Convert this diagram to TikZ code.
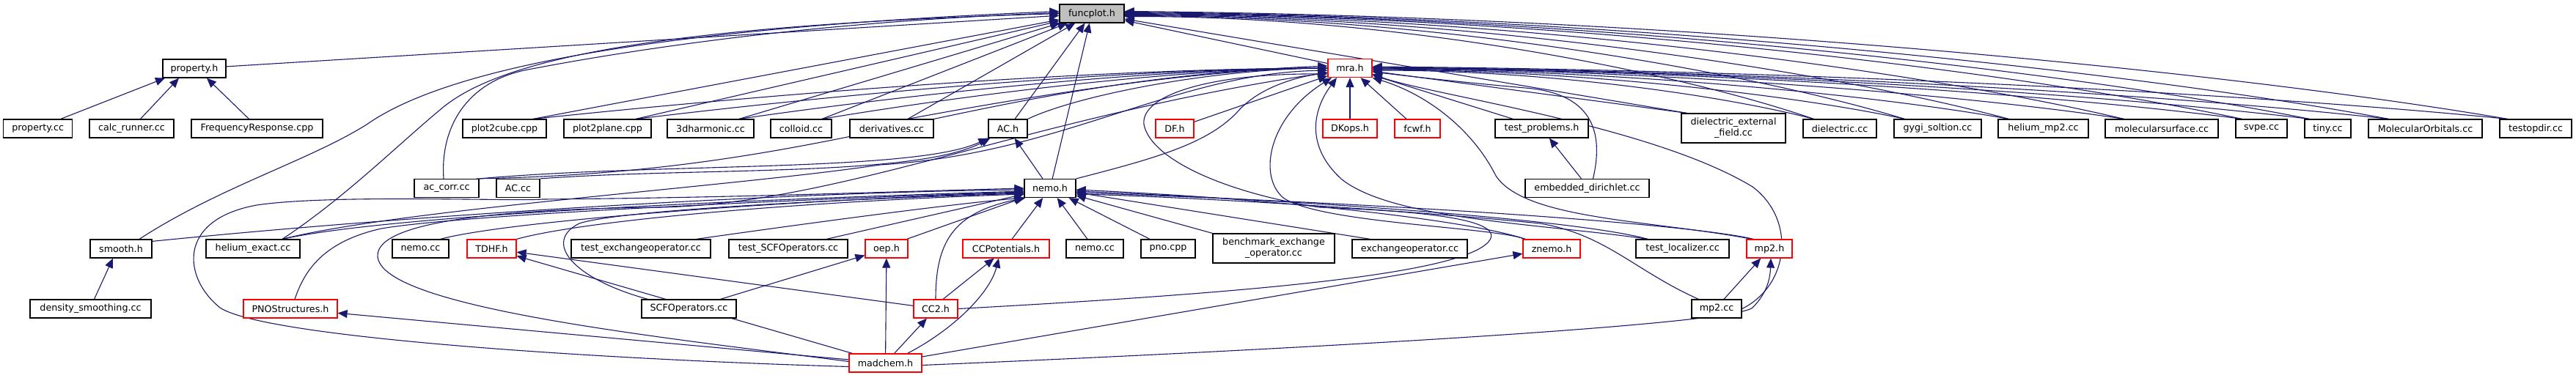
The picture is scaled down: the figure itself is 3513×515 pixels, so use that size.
\documentclass[tikz,border=0pt]{standalone}
\usepackage{fontspec}
\setmainfont{DejaVu Sans}
\usetikzlibrary{arrows.meta}
\definecolor{edgecol}{HTML}{191970}
\definecolor{gfill}{HTML}{BFBFBF}
\definecolor{redb}{HTML}{FF0000}
\pgfdeclarelayer{bg}
\pgfsetlayers{bg,main}
\tikzset{
 box/.style={draw=black, line width=1.2pt, fill=white, minimum height=25pt, inner sep=0pt, font=\fontsize{12.7}{15}\selectfont, text=black},
 rbox/.style={box, draw=redb},
 conn/.style={draw=edgecol, line width=1.1pt, -{Triangle[length=13pt,width=11pt]}},
}
\begin{document}
\begin{tikzpicture}[x=1pt,y=-1pt]
\useasboundingbox (0,0) rectangle (3513,515);
% level 0
\node[box, minimum width=88pt, fill=gfill] (funcplot) at (1489,18.5) {funcplot.h};
% level 1
\node[box, minimum width=86pt] (propertyh) at (265,93.5) {property.h};
\node[rbox, minimum width=60pt] (mrah) at (1841,93) {mra.h};
% level 2
\node[box, minimum width=94pt] (propertycc) at (51.7,175.5) {property.cc};
\node[box, minimum width=115pt] (calcrunner) at (179.5,175.5) {calc\_runner.cc};
\node[box, minimum width=179pt] (freqresp) at (350.5,175.5) {FrequencyResponse.cpp};
\node[box, minimum width=114pt] (plotcube) at (688,175.5) {plot2cube.cpp};
\node[box, minimum width=119pt] (plotplane) at (828.5,175.5) {plot2plane.cpp};
\node[box, minimum width=118pt] (harmonic) at (969,175.5) {3dharmonic.cc};
\node[box, minimum width=83pt] (colloid) at (1092.5,175.5) {colloid.cc};
\node[box, minimum width=114pt] (derivs) at (1216,175.5) {derivatives.cc};
\node[box, minimum width=53pt] (ACh) at (1374.5,175.5) {AC.h};
\node[rbox, minimum width=52pt] (DFh) at (1602,175.5) {DF.h};
\node[rbox, minimum width=74pt] (DKops) at (1841,175.5) {DKops.h};
\node[rbox, minimum width=62pt] (fcwf) at (1933,175.5) {fcwf.h};
\node[box, minimum width=127pt] (testprob) at (2102.5,175.5) {test\_problems.h};
\node[box, minimum width=142pt, minimum height=40pt, align=center] (dext) at (2364,175) {dielectric\_external\\\_field.cc};
\node[box, minimum width=100pt] (dielec) at (2509,175.5) {dielectric.cc};
\node[box, minimum width=119pt] (gygi) at (2642.5,175.5) {gygi\_soltion.cc};
\node[box, minimum width=123pt] (hemp) at (2786.5,175.5) {helium\_mp2.cc};
\node[box, minimum width=154pt] (molsurf) at (2948,175.5) {molecularsurface.cc};
\node[box, minimum width=70pt] (svpe) at (3084,175.5) {svpe.cc};
\node[box, minimum width=63pt] (tiny) at (3174.5,175.5) {tiny.cc};
\node[box, minimum width=155pt] (molorb) at (3307.5,175.5) {MolecularOrbitals.cc};
\node[box, minimum width=98pt] (testopdir) at (3458,175.5) {testopdir.cc};
% level 3
\node[box, minimum width=88pt] (acorr) at (609,257) {ac\_corr.cc};
\node[box, minimum width=59pt] (ACcc) at (706.5,257) {AC.cc};
\node[box, minimum width=70pt] (nemoh) at (1432,257) {nemo.h};
\node[box, minimum width=169pt] (embdir) at (2164.5,257) {embedded\_dirichlet.cc};
% level 4
\node[box, minimum width=84pt] (smooth) at (165,339.5) {smooth.h};
\node[box, minimum width=128pt] (hexact) at (345,339.5) {helium\_exact.cc};
\node[box, minimum width=77pt] (nemocca) at (573.5,339.5) {nemo.cc};
\node[rbox, minimum width=67pt] (TDHF) at (670.5,339.5) {TDHF.h};
\node[box, minimum width=190pt] (testexch) at (874,339.5) {test\_exchangeoperator.cc};
\node[box, minimum width=162pt] (testscf) at (1075,339.5) {test\_SCFOperators.cc};
\node[rbox, minimum width=58pt] (oeph) at (1209,339.5) {oep.h};
\node[rbox, minimum width=118pt] (ccpot) at (1372,339.5) {CCPotentials.h};
\node[box, minimum width=78pt] (nemoccb) at (1493,339.5) {nemo.cc};
\node[box, minimum width=74pt] (pno) at (1593,339.5) {pno.cpp};
\node[box, minimum width=166pt, minimum height=40pt, align=center] (bench) at (1737,339) {benchmark\_exchange\\\_operator.cc};
\node[box, minimum width=157pt] (exchop) at (1922.5,339.5) {exchangeoperator.cc};
\node[rbox, minimum width=78pt] (znemo) at (2116,339.5) {znemo.h};
\node[box, minimum width=127pt] (testloc) at (2294.5,339.5) {test\_localizer.cc};
\node[rbox, minimum width=62pt] (mptwoh) at (2413,339.5) {mp2.h};
% level 5
\node[box, minimum width=165pt] (densm) at (123.5,421.5) {density\_smoothing.cc};
\node[rbox, minimum width=128pt] (PNO) at (396,421.5) {PNOStructures.h};
\node[box, minimum width=129pt] (scfop) at (939.5,421.5) {SCFOperators.cc};
\node[rbox, minimum width=60pt] (CCtwo) at (1276,421.5) {CC2.h};
\node[box, minimum width=68pt] (mptwocc) at (2341,421.5) {mp2.cc};
% level 6
\node[rbox, minimum width=99pt] (madchem) at (1207.5,495.5) {madchem.h};

\begin{pgfonlayer}{bg}
\fill[white] (0,0) rectangle (3513,515);
% property
\draw[conn] ([xshift=31pt]propertycc.north) -- ([xshift=-40pt]propertyh.south);
\draw[conn] ([xshift=12pt]calcrunner.north) -- ([xshift=-21pt]propertyh.south);
\draw[conn] ([xshift=-11pt]freqresp.north) -- ([xshift=17pt]propertyh.south);
\draw[conn] (propertyh) -- (funcplot);
% smooth
\draw[conn] ([xshift=5pt]densm.north) -- ([xshift=-11pt]smooth.south);
\draw[conn] ([xshift=25pt]smooth.north) .. controls (300,255) and (420,220) .. (500,170) .. controls (600,100) and (850,40) .. ([yshift=3pt]funcplot.west);
\draw[conn] ([yshift=-3pt]smooth.north east) .. controls (600,290) and (1100,262) .. ([yshift=-2pt]nemoh.west);
% helium_exact
\draw[conn] ([xshift=40pt]hexact.north) .. controls (470,270) and (540,200) .. (600,150) .. controls (680,80) and (900,35) .. (funcplot.west);
\draw[conn] ([xshift=40pt]hexact.north) .. controls (550,290) and (1100,270) .. ([yshift=-4pt]nemoh.west);
\draw[conn] ([xshift=40pt]hexact.north) .. controls (550,285) and (1000,255) .. (1200,225) .. controls (1450,210) and (1600,100) .. ([yshift=-3pt]mrah.west);
% ac_corr, AC.cc
\draw[conn] ([xshift=-4pt]acorr.north) .. controls (600,170) and (640,110) .. (720,95) .. controls (850,70) and (1100,30) .. ([yshift=1pt]funcplot.west);
\draw[conn] (acorr.north east) .. controls (900,222) and (1250,235) .. (ACh.south west);
\draw[conn] ([xshift=-4pt]acorr.north east) .. controls (1150,235) and (1320,110) .. ([yshift=3pt]mrah.west);
\draw[conn] (ACcc.north east) .. controls (950,228) and (1250,242) .. ([xshift=3pt]ACh.south west);
% left level-2 nodes
\draw[conn] ([xshift=39pt]plotcube.north) -- (funcplot);
\draw[conn] ([xshift=39pt]plotcube.north) .. controls (1052,128) and (1486,94) .. (mrah.west);
\draw[conn] ([xshift=38.5pt]plotplane.north) -- (funcplot);
\draw[conn] ([xshift=38.5pt]plotplane.north) .. controls (1150,128) and (1528,94) .. (mrah.west);
\draw[conn] ([xshift=39pt]harmonic.north) -- (funcplot);
\draw[conn] ([xshift=39pt]harmonic.north) .. controls (1245,128) and (1569,94) .. (mrah.west);
\draw[conn] ([xshift=28.5pt]colloid.north) -- (funcplot);
\draw[conn] ([xshift=28.5pt]colloid.north) .. controls (1328,128) and (1604,94) .. (mrah.west);
\draw[conn] ([xshift=22pt]derivs.north) -- (funcplot);
\draw[conn] ([xshift=22pt]derivs.north) .. controls (1422,128) and (1644,94) .. (mrah.west);
% AC.h
\draw[conn] (ACh) -- (funcplot);
\draw[conn] (ACh.north east) .. controls (1470,130) and (1650,95) .. (mrah.west);
% nemo.h
\draw[conn] (nemoh) -- (funcplot);
\draw[conn] ([xshift=-10pt]nemoh.north) -- (ACh);
\draw[conn] (nemoh.north east) .. controls (1580,215) and (1650,195) .. (1690,150) .. controls (1720,118) and (1770,105) .. ([yshift=-6pt]mrah.west);
% mra.h and its direct children
\draw[conn] (mrah) -- (funcplot);
\draw[conn] (DFh) -- (mrah);
\draw[conn] (DKops) -- (mrah);
\draw[conn] ([xshift=-15pt]fcwf.north) -- (mrah);
\draw[conn] ([xshift=25pt]testprob.north west) -- (mrah);
\draw[conn] ([xshift=-8pt]embdir.north) -- (testprob);
\draw[conn] ([xshift=8pt]embdir.north) .. controls (2185,190) and (2180,128) .. (2080,120) .. controls (2000,113) and (1930,105) .. ([yshift=-5pt]mrah.east);
\draw[conn] ([xshift=8pt]dext.north west) -- (funcplot);
\draw[conn] ([xshift=8pt]dext.north west) -- (mrah);
% right level-2 nodes to funcplot
\draw[conn] ([xshift=15pt]dielec.north west) .. controls (2286,98) and (1909,22) .. ([yshift=-4pt]funcplot.east);
\draw[conn] ([xshift=15pt]gygi.north west) .. controls (2385,98) and (1959,22) .. ([yshift=-3pt]funcplot.east);
\draw[conn] ([xshift=15pt]hemp.north west) .. controls (2499,98) and (2016,22) .. ([yshift=-2pt]funcplot.east);
\draw[conn] ([xshift=26pt]molsurf.north west) .. controls (2624,98) and (2079,22) .. ([yshift=-1pt]funcplot.east);
\draw[conn] ([xshift=9pt]svpe.north west) .. controls (2753,98) and (2143,22) .. (funcplot.east);
\draw[conn] ([xshift=7pt]tiny.north west) .. controls (2827,98) and (2180,22) .. ([yshift=1pt]funcplot.east);
\draw[conn] ([xshift=28pt]molorb.north west) .. controls (2913,98) and (2223,22) .. ([yshift=2pt]funcplot.east);
\draw[conn] ([xshift=11pt]testopdir.north west) .. controls (3043,98) and (2288,22) .. ([yshift=3pt]funcplot.east);
% right level-2 nodes to mra.h
\draw[conn] ([xshift=15pt]dielec.north west) .. controls (2353,131) and (2112,96) .. ([yshift=-3pt]mrah.east);
\draw[conn] ([xshift=15pt]gygi.north west) .. controls (2453,131) and (2162,96) .. ([yshift=-2pt]mrah.east);
\draw[conn] ([xshift=15pt]hemp.north west) .. controls (2566,131) and (2219,96) .. ([yshift=-1pt]mrah.east);
\draw[conn] ([xshift=26pt]molsurf.north west) .. controls (2692,131) and (2281,96) .. (mrah.east);
\draw[conn] ([xshift=9pt]svpe.north west) .. controls (2821,131) and (2346,96) .. (mrah.east);
\draw[conn] ([xshift=7pt]tiny.north west) .. controls (2894,131) and (2383,96) .. ([yshift=1pt]mrah.east);
\draw[conn] ([xshift=28pt]molorb.north west) .. controls (2981,131) and (2426,96) .. ([yshift=1pt]mrah.east);
\draw[conn] ([xshift=11pt]testopdir.north west) .. controls (3110,131) and (2491,96) .. ([yshift=2pt]mrah.east);
% nemo.h children (left)
\draw[conn] ([xshift=27pt]nemocca.north) .. controls (700,300) and (1100,272) .. ([yshift=-6pt]nemoh.west);
\draw[conn] (TDHF.north east) .. controls (800,300) and (1100,275) .. ([yshift=-8pt]nemoh.west);
\draw[conn] ([xshift=-20pt]testexch.north east) .. controls (1100,305) and (1300,278) .. (nemoh.south west);
\draw[conn] ([xshift=52pt]testscf.north) -- (nemoh);
\draw[conn] ([xshift=-2pt]oeph.north east) -- (nemoh);
\draw[conn] ([xshift=8pt]ccpot.north) -- (nemoh);
% nemo.h children (right)
\draw[conn] ([xshift=-10pt]nemoccb.north) -- (nemoh);
\draw[conn] ([xshift=-25pt]pno.north) -- (nemoh);
\draw[conn] (bench.north west) -- (nemoh);
\draw[conn] ([xshift=25pt]exchop.north west) -- (nemoh);
\draw[conn] ([xshift=4pt]znemo.north west) .. controls (2000,300) and (1750,272) .. ([yshift=-2pt]nemoh.east);
\draw[conn] ([xshift=17pt]testloc.north west) .. controls (2150,300) and (1800,275) .. ([yshift=-4pt]nemoh.east);
\draw[conn] ([xshift=10pt]mptwoh.north west) .. controls (2300,305) and (1900,278) .. ([yshift=-6pt]nemoh.east);
\draw[conn] ([xshift=10pt]mptwocc.north west) .. controls (2230,370) and (2190,320) .. (2100,305) .. controls (1900,285) and (1600,268) .. ([yshift=-8pt]nemoh.east);
% mra.h children from lower levels
\draw[conn] ([xshift=17pt]testloc.north west) .. controls (2100,305) and (1900,300) .. (1830,245) .. controls (1780,200) and (1790,150) .. ([xshift=-18pt]mrah.south);
\draw[conn] ([xshift=3pt]znemo.north west) .. controls (2040,310) and (1800,305) .. (1750,270) .. controls (1715,240) and (1730,160) .. ([xshift=-25pt]mrah.south);
\draw[conn] ([xshift=8pt]mptwoh.north west) .. controls (2250,300) and (2080,300) .. (2040,240) .. controls (2010,180) and (1950,130) .. (mrah.south east);
\draw[conn] (mptwocc.east) .. controls (2440,390) and (2450,300) .. (2390,255) .. controls (2250,170) and (1950,130) .. ([yshift=-8pt]mrah.east);
\draw[conn] (CCtwo.east) .. controls (1700,400) and (1990,375) .. (2030,330) .. controls (2060,295) and (1900,287) .. (1800,283) .. controls (1680,265) and (1570,220) .. (1560,170) .. controls (1555,130) and (1650,100) .. ([yshift=-8pt]mrah.west);
% mp2
\draw[conn] ([xshift=10pt]mptwocc.north) -- (mptwoh);
% PNO, SCF
\draw[conn] ([xshift=6pt]PNO.north) .. controls (415,370) and (440,330) .. (520,312) .. controls (650,290) and (1200,268) .. ([yshift=-5pt]nemoh.west);
\draw[conn] ([xshift=9pt]scfop.north west) .. controls (780,380) and (740,330) .. (790,305) .. controls (850,285) and (1200,270) .. ([yshift=-7pt]nemoh.west);
\draw[conn] (scfop) -- (oeph);
% CC2
\draw[conn] (CCtwo.north) .. controls (1276,330) and (1300,290) .. ([xshift=2pt]nemoh.south west);
\draw[conn] ([xshift=10pt]CCtwo.north) -- (ccpot);
\draw[conn] (CCtwo) -- (TDHF);
% madchem
\draw[conn] (madchem) -- (CCtwo);
\draw[conn] (madchem) -- (oeph);
\draw[conn] (madchem) -- (TDHF);
\draw[conn] (madchem) -- (PNO);
\draw[conn] (madchem) -- (znemo);
\draw[conn] ([xshift=30pt]madchem.north) .. controls (1300,450) and (1350,400) .. ([xshift=-10pt]ccpot.south);
\draw[conn] ([yshift=-3pt]madchem.east) .. controls (1700,480) and (2360,445) .. (2390,420) .. controls (2410,400) and (2414,380) .. ([xshift=2pt]mptwoh.south);
\draw[conn] ([yshift=-5pt]madchem.west) .. controls (800,490) and (360,460) .. (300,420) .. controls (250,380) and (240,300) .. (350,280) .. controls (450,265) and (700,275) .. (740,272) .. controls (1000,270) and (1200,262) .. (nemoh.west);
\draw[conn] ([yshift=2pt]madchem.west) .. controls (900,460) and (520,420) .. (515,350) .. controls (512,300) and (700,285) .. (900,283) .. controls (1150,278) and (1400,160) .. ([yshift=-6pt]mrah.west);
\end{pgfonlayer}
\end{tikzpicture}
\end{document}
